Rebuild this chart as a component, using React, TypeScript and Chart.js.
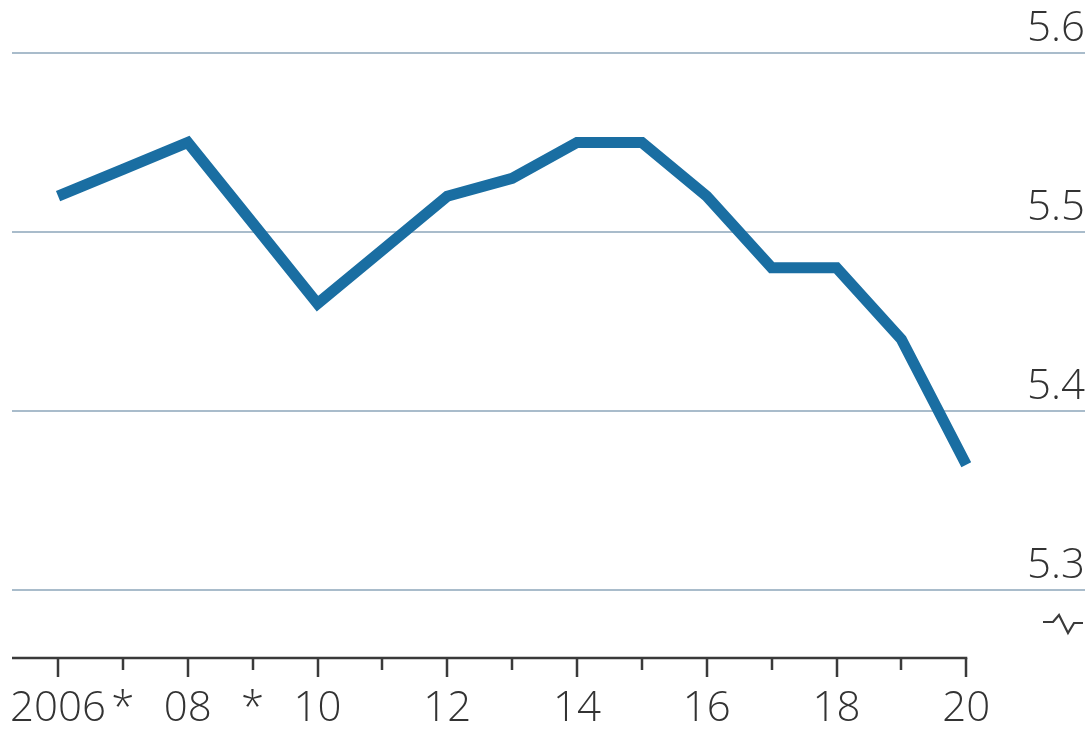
import React, { useEffect, useRef } from "react";
import { Chart, registerables } from "chart.js";

Chart.register(...registerables);

const years = [2006, 2007, 2008, 2009, 2010, 2011, 2012, 2013, 2014, 2015, 2016, 2017, 2018, 2019, 2020];
const values = [5.52, 5.535, 5.55, 5.505, 5.46, 5.49, 5.52, 5.53, 5.55, 5.55, 5.52, 5.48, 5.48, 5.44, 5.37];
const xTickLabels = ["2006", "*", "08", "*", "10", "", "12", "", "14", "", "16", "", "18", "", "20"];
const yTicks = [5.3, 5.4, 5.5, 5.6];

const FONT = "'Open Sans', sans-serif";
const TEXT = "#333333";

const decorPlugin = {
  id: "decor",
  afterDraw(chart: any) {
    const ctx = chart.ctx;
    const xs = chart.scales.x;
    const area = chart.chartArea;
    const y0 = area.bottom;
    ctx.save();
    ctx.strokeStyle = "#3a3a3a";
    ctx.lineWidth = 2.5;
    ctx.beginPath();
    ctx.moveTo(area.left, y0);
    ctx.lineTo(xs.getPixelForValue(years[years.length - 1]) + 1, y0);
    ctx.stroke();
    years.forEach((yr) => {
      const px = Math.round(xs.getPixelForValue(yr));
      const len = yr % 2 === 0 ? 19 : 12;
      ctx.beginPath();
      ctx.moveTo(px, y0);
      ctx.lineTo(px, y0 + len);
      ctx.stroke();
    });
    // axis break symbol
    const r = area.right;
    const by = chart.scales.y.getPixelForValue(5.3) + 32;
    ctx.lineWidth = 2.2;
    ctx.lineJoin = "miter";
    ctx.beginPath();
    ctx.moveTo(r - 42, by);
    ctx.lineTo(r - 32, by);
    ctx.lineTo(r - 26, by - 7);
    ctx.lineTo(r - 17, by + 11);
    ctx.lineTo(r - 11, by + 1);
    ctx.lineTo(r - 2, by + 1);
    ctx.stroke();
    ctx.restore();
  },
};

export default function App() {
  const ref = useRef<HTMLCanvasElement | null>(null);
  useEffect(() => {
    document.body.style.margin = "0";
    const canvas = ref.current;
    if (!canvas) return;
    const chart = new Chart(canvas, {
      type: "line",
      data: {
        datasets: [
          {
            data: years.map((y, i) => ({ x: y, y: values[i] })),
            borderColor: "#1a6ea2",
            borderWidth: 11,
            pointRadius: 0,
            borderJoinStyle: "miter",
            borderCapStyle: "butt",
            tension: 0,
            fill: false,
          },
        ],
      },
      options: {
        animation: false,
        responsive: true,
        maintainAspectRatio: false,
        layout: { padding: { left: 12, right: 6, top: 53, bottom: 0 } },
        plugins: { legend: { display: false }, tooltip: { enabled: false } },
        scales: {
          x: {
            type: "linear",
            min: 2005.29,
            max: 2021.83,
            afterBuildTicks: (scale: any) => {
              scale.ticks = years.map((v) => ({ value: v }));
            },
            afterFit: (scale: any) => {
              scale.height = 74;
              scale.paddingLeft = 0;
              scale.paddingRight = 0;
            },
            grid: { display: false, drawTicks: false },
            border: { display: false },
            ticks: {
              autoSkip: false,
              maxRotation: 0,
              minRotation: 0,
              padding: 26,
              color: TEXT,
              font: { family: FONT, size: 42, weight: "300" },
              callback: (v: any) => {
                const i = years.indexOf(Number(v));
                return i >= 0 ? xTickLabels[i] : "";
              },
            },
          },
          y: {
            position: "right",
            min: 5.262,
            max: 5.6,
            afterBuildTicks: (scale: any) => {
              scale.ticks = yTicks.map((v) => ({ value: v }));
            },
            afterFit: (scale: any) => {
              scale.width = 0;
              scale.paddingTop = 0;
              scale.paddingBottom = 0;
            },
            grid: { color: "#a9bccb", lineWidth: 2, drawTicks: false },
            border: { display: false },
            ticks: {
              mirror: true,
              padding: 0,
              labelOffset: -24,
              color: TEXT,
              font: { family: FONT, size: 42, weight: "300" },
              callback: (v: any) => Number(v).toFixed(1),
            },
          },
        },
      },
      plugins: [decorPlugin],
    });
    return () => chart.destroy();
  }, []);
  return (
    <div style={{ position: "relative", width: "1091px", height: "732px" }}>
      <canvas ref={ref} />
    </div>
  );
}
